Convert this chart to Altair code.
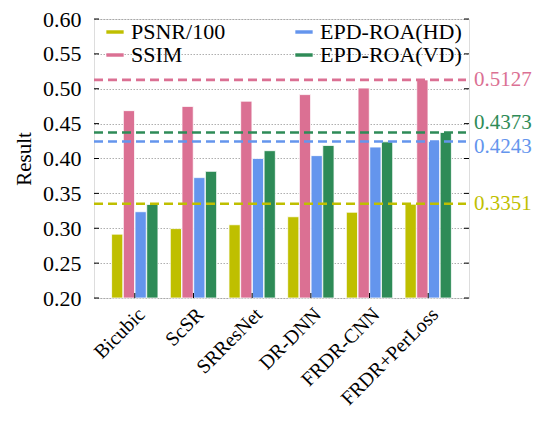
import altair as alt
import pandas as pd

methods = ["Bicubic", "ScSR", "SRResNet", "DR-DNN", "FRDR-CNN", "FRDR+PerLoss"]
metrics = ["PSNR/100", "SSIM", "EPD-ROA(HD)", "EPD-ROA(VD)"]
psnr = [0.2915, 0.2995, 0.3050, 0.3165, 0.3230, 0.3345]
ssim = [0.4686, 0.4747, 0.4822, 0.4916, 0.5010, 0.5127]
epd_hd = [0.3237, 0.3726, 0.4000, 0.4041, 0.4164, 0.4243]
epd_vd = [0.3341, 0.3816, 0.4112, 0.4187, 0.4239, 0.4373]
best = [0.3351, 0.5127, 0.4243, 0.4373]
colors = ["#bfbf00", "#db7093", "#6495ed", "#2e8b57"]
label_dy = [0, 0, 5, -9]
y_ticks = [0.20, 0.25, 0.30, 0.35, 0.40, 0.45, 0.50, 0.55, 0.60]

W, H = 375, 279
FONT = "Liberation Serif"
FS = 22

series = [psnr, ssim, epd_hd, epd_vd]
rows = []
for m, vals in zip(metrics, series):
    for meth, v in zip(methods, vals):
        rows.append({"method": meth, "metric": m, "value": v})
df = pd.DataFrame(rows)

ydom = alt.Scale(domain=[0.2, 0.6], nice=False, zero=False)
xscale = alt.Scale(paddingInner=0.21, paddingOuter=0.3)
yaxis = alt.Axis(values=y_ticks, format=".2f", ticks=False, domain=False,
                 labelOverlap=False,
                 labelPadding=13, labelFont=FONT, labelFontSize=FS,
                 labelColor="black", titleFont=FONT, titleFontSize=21,
                 titleFontWeight="normal", titleColor="black", titlePadding=8,
                 grid=True, gridDash=[1.5, 1.5], gridColor="#9a9a9a",
                 gridWidth=0.8)
xaxis = alt.Axis(labelAngle=315, labelAlign="right", labelBaseline="top",
                 labelPadding=6, ticks=False, domain=False,
                 labelFont=FONT, labelFontSize=20, labelColor="black")


def Y(field):
    return alt.Y(field, scale=ydom, title="Result", axis=yaxis)


def X():
    return alt.X("method:N", sort=methods, scale=xscale, title=None, axis=xaxis)


bars = alt.Chart(df).mark_bar(stroke="white", strokeWidth=0.8).encode(
    x=X(),
    xOffset=alt.XOffset("metric:N", sort=metrics,
                        scale=alt.Scale(paddingInner=0.04, paddingOuter=0)),
    y=Y("value:Q"),
    y2=alt.datum(0.2),
    color=alt.Color("metric:N", sort=metrics,
                    scale=alt.Scale(domain=metrics, range=colors),
                    legend=alt.Legend(title=None, orient="none", legendX=10, legendY=2,
                                      columns=2, columnPadding=67, rowPadding=1,
                                      symbolType="M-1,-0.2L1,-0.2L1,0.2L-1,0.2Z",
                                      symbolSize=300, symbolStrokeWidth=0,
                                      labelFont=FONT, labelFontSize=FS,
                                      labelColor="black", labelOffset=5,
                                      padding=0)),
)

layers = [bars]

tick_df = pd.DataFrame({"value": y_ticks})
layers.append(alt.Chart(tick_df).mark_rule(color="black", strokeWidth=1).encode(
    y=Y("value:Q"), x=alt.value(0), x2=alt.value(5)))
layers.append(alt.Chart(tick_df).mark_rule(color="black", strokeWidth=1).encode(
    y=Y("value:Q"), x=alt.value(W - 5), x2=alt.value(W)))
meth_df = pd.DataFrame({"method": methods})
layers.append(alt.Chart(meth_df).mark_rule(color="black", strokeWidth=1).encode(
    x=X(), y=alt.value(H - 5), y2=alt.value(H)))

for m, b, c, dy in zip(metrics, best, colors, label_dy):
    bdf = pd.DataFrame({"metric": [m], "value": [b]})
    layers.append(alt.Chart(bdf).mark_rule(color=c, strokeWidth=2.6,
                                           strokeDash=[9, 5]).encode(
        y=Y("value:Q"), x=alt.value(0), x2=alt.value(W - 3)))
    layers.append(alt.Chart(bdf).mark_text(color=c, align="left", baseline="middle",
                                           dy=dy, font=FONT, fontSize=21).encode(
        y=Y("value:Q"), x=alt.value(W + 5),
        text=alt.Text("value:Q", format=".4f")))

chart = alt.layer(*layers).properties(
    width=W, height=H,
).configure_view(stroke="black", strokeWidth=1.2).configure(
    background="white", padding={"left": 5, "top": 0, "right": 0, "bottom": 0})

chart.save("out.html", embed_options={"renderer": "svg", "actions": False})
